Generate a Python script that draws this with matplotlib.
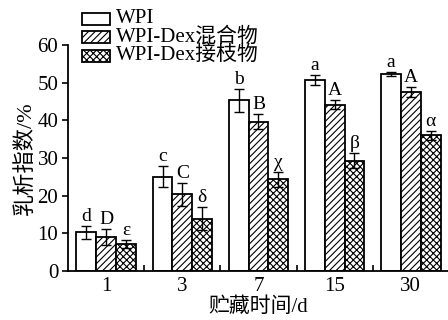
import numpy as np
import matplotlib

matplotlib.use("Agg")
import matplotlib.pyplot as plt
from matplotlib.patches import Rectangle

plt.rcParams["font.family"] = ["Liberation Serif", "Noto Sans CJK SC"]
plt.rcParams["hatch.linewidth"] = 0.8
plt.rcParams["axes.linewidth"] = 1.3

days = ["1", "3", "7", "15", "30"]
series = ["WPI", "WPI-Dex混合物", "WPI-Dex接枝物"]
wpi = [10.3, 25.0, 45.3, 50.7, 52.3]
wpi_err = [1.7, 2.8, 3.1, 1.4, 0.5]
mix = [9.0, 20.4, 39.7, 44.2, 47.5]
mix_err = [2.2, 3.0, 2.0, 1.2, 1.4]
graft = [7.2, 13.9, 24.4, 29.3, 36.0]
graft_err = [1.0, 3.0, 2.0, 2.0, 1.1]
lab_wpi = ["d", "c", "b", "a", "a"]
lab_mix = ["D", "C", "B", "A", "A"]
lab_graft = ["ε", "δ", "χ", "β", "α"]

W, H = 448, 320
fig = plt.figure(figsize=(W / 100, H / 100), dpi=100)
ax = fig.add_axes([0.152, 0.153, 0.85, 0.706])

x = np.arange(len(days))
w = 0.26
hatches = ["", "/////", "xxxxx"]
vals = [wpi, mix, graft]
errs = [wpi_err, mix_err, graft_err]
labs = [lab_wpi, lab_mix, lab_graft]
for i in range(3):
    xs = x + (i - 1) * w
    ax.bar(xs, vals[i], w, color="white", edgecolor="black", hatch=hatches[i],
           lw=1.3, label=series[i])
    ax.errorbar(xs, vals[i], yerr=errs[i], fmt="none", ecolor="black",
                elinewidth=1.0, capsize=3.5, capthick=1.0)
    for xx, v, e, t in zip(xs, vals[i], errs[i], labs[i]):
        ax.text(xx, v + e + 0.3, t, ha="center", va="bottom", fontsize=14)

ax.set_xlim(-0.5, 4.5)
ax.set_ylim(0, 60)
ax.set_yticks(range(0, 61, 10))
ax.set_xticks(x)
ax.set_xticklabels(days)
ax.set_xticks(np.arange(0.5, 4, 1), minor=True)
ax.tick_params(axis="x", which="major", length=0, labelsize=15, pad=4)
ax.tick_params(axis="x", which="minor", direction="in", length=4, width=1.2)
ax.tick_params(axis="y", labelsize=15, length=4, width=1.2, pad=3)
ax.spines["top"].set_visible(False)
ax.spines["right"].set_visible(False)
ax.set_xlabel("贮藏时间/d", fontsize=15, labelpad=1.5)
ax.set_ylabel("乳析指数/%", fontsize=16, labelpad=1)

# legend drawn by hand so the rows sit as tight as in the reference
for i in range(3):
    top = 12.5 + i * 18.5
    fig.patches.append(Rectangle((82 / W, 1 - (top + 12) / H), 28 / W, 12 / H,
                                 transform=fig.transFigure, facecolor="white",
                                 edgecolor="black", hatch=hatches[i], lw=1.3))
    fig.text(116 / W, 1 - (top + 6) / H, series[i], fontsize=15,
             ha="left", va="center")

fig.savefig("out.png", dpi=100)
